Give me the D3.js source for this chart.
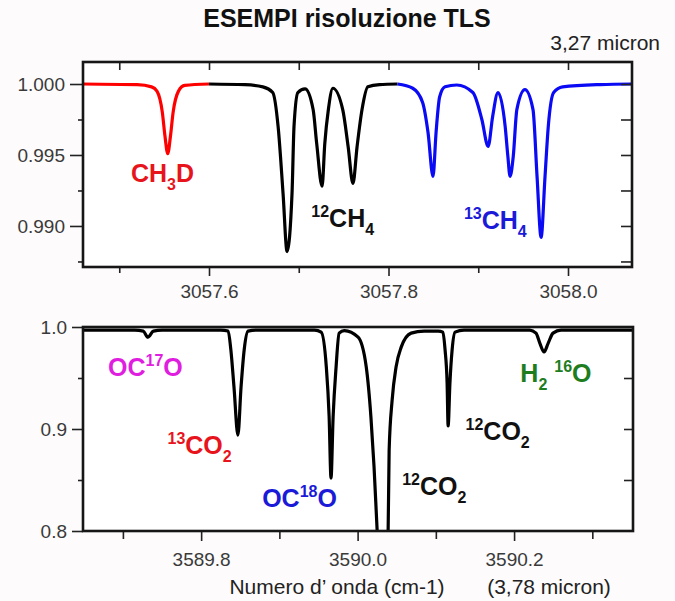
<!DOCTYPE html>
<html>
<head>
<meta charset="utf-8">
<script src="https://cdn.jsdelivr.net/npm/d3@7"></script>
<style>
  body { margin: 0; background: #fdfbfb; font-family: "Liberation Sans", Arial, sans-serif; }
  .tick text { font-family: "Liberation Sans", Arial, sans-serif; fill: #3a3a3a; }
  .tick line { stroke: #222; stroke-width: 1.6; }
</style>
</head>
<body>
<div id="chart"></div>
<script>
// ---- data ----
// top panel (3,27 micron), wavenumber cm-1 / transmittance
const ch3dLine = [[3057.46,1.0],[3057.52,0.99995],[3057.536,0.9998],[3057.542,0.9995],[3057.548,0.9980],[3057.551,0.9963],[3057.554,0.9951],[3057.557,0.9963],[3057.560,0.9980],[3057.566,0.9995],[3057.573,0.9999],[3057.60,1.0]]
const ch4Line = [[3057.60,1.0],[3057.640,0.99995],[3057.660,0.9998],[3057.671,0.9994],[3057.677,0.9970],[3057.6825,0.9923],[3057.687,0.9882],[3057.6925,0.9923],[3057.6947,0.9970],[3057.699,0.9994],[3057.707,0.99965],[3057.716,0.9982],[3057.720,0.9958],[3057.726,0.9928],[3057.729,0.9958],[3057.733,0.9982],[3057.738,0.9997],[3057.749,0.9982],[3057.755,0.9956],[3057.7604,0.9930],[3057.765,0.9956],[3057.7705,0.9982],[3057.777,0.9998],[3057.790,0.99996],[3057.81,1.0]]
const c13h4Line = [[3057.81,1.0],[3057.827,0.9997],[3057.838,0.9987],[3057.844,0.9966],[3057.8496,0.9935],[3057.853,0.9966],[3057.857,0.9991],[3057.863,0.9998],[3057.876,0.99993],[3057.894,0.9994],[3057.904,0.9975],[3057.911,0.9956],[3057.916,0.9977],[3057.922,0.9994],[3057.930,0.9970],[3057.933,0.9949],[3057.9354,0.9935],[3057.939,0.9949],[3057.943,0.9982],[3057.952,0.9996],[3057.961,0.9982],[3057.9655,0.9935],[3057.970,0.9892],[3057.9744,0.9935],[3057.978,0.9970],[3057.984,0.9994],[3057.994,0.9998],[3058.036,0.99996],[3058.072,1.0]]

// bottom panel (3,78 micron)
const co2Line = [[3589.649,0.997],[3589.715,0.997],[3589.726,0.996],[3589.732,0.990],[3589.739,0.996],[3589.750,0.997],[3589.825,0.997],[3589.8345,0.996],[3589.838,0.9775],[3589.842,0.941],[3589.847,0.894],[3589.851,0.941],[3589.855,0.9775],[3589.860,0.996],[3589.870,0.997],[3589.945,0.997],[3589.9534,0.995],[3589.960,0.961],[3589.9636,0.912],[3589.966,0.852],[3589.9687,0.912],[3589.9725,0.961],[3589.9764,0.994],[3589.983,0.9965],[3590.0006,0.990],[3590.011,0.961],[3590.017,0.912],[3590.021,0.863],[3590.025,0.800],[3590.031,0.72],[3590.039,0.800],[3590.0403,0.879],[3590.0441,0.928],[3590.0492,0.961],[3590.0556,0.980],[3590.0684,0.994],[3590.085,0.996],[3590.103,0.996],[3590.109,0.995],[3590.1118,0.9775],[3590.1144,0.945],[3590.1157,0.903],[3590.118,0.945],[3590.1208,0.9775],[3590.1246,0.995],[3590.136,0.997],[3590.220,0.997],[3590.228,0.994],[3590.233,0.984],[3590.2383,0.9755],[3590.2435,0.984],[3590.2498,0.994],[3590.260,0.997],[3590.352,0.997]]

const topXTicks = [3057.6, 3057.8, 3058.0]
const topXMinor = [3057.5, 3057.7, 3057.9]
const topYTicks = [0.990, 0.995, 1.000]
const topYMinor = [0.9875, 0.9925, 0.9975]
const botXTicks = [3589.8, 3590.0, 3590.2]
const botXMinor = [3589.7, 3589.9, 3590.1, 3590.3]
const botYTicks = [0.8, 0.9, 1.0]
const botYMinor = [0.85, 0.95]

const title = 'ESEMPI risoluzione TLS'
const topNote = '3,27 micron'
const xTitle = 'Numero d\u2019 onda (cm-1)'
const botNote = '(3,78 micron)'

// label pieces: [text, 'b' base | 'p' superscript | 's' subscript]
const topLabels = [
    { parts: [['CH','b'],['3','s'],['D','b']], at: [3057.513, 0.9931], color: '#e8141c' },
    { parts: [['12','p'],['CH','b'],['4','s']], at: [3057.714, 0.98993], color: '#111' },
    { parts: [['13','p'],['CH','b'],['4','s']], at: [3057.884, 0.98979], color: '#1a1ad8' }
]
const botLabels = [
    { parts: [['OC','b'],['17','p'],['O','b']], at: [3589.681, 0.952], color: '#e01ee0' },
    { parts: [['13','p'],['CO','b'],['2','s']], at: [3589.757, 0.8755], color: '#e8141c' },
    { parts: [['OC','b'],['18','p'],['O','b']], at: [3589.878, 0.8235], color: '#1a1ad8' },
    { parts: [['12','p'],['CO','b'],['2','s']], at: [3590.057, 0.8353], color: '#111' },
    { parts: [['12','p'],['CO','b'],['2','s']], at: [3590.138, 0.8892], color: '#111' },
    { parts: [['H','b'],['2','s'],[' ','b'],['16','p'],['O','b']], at: [3590.208, 0.9461], color: '#1e7d1e' }
]

// ---- drawing ----
const w = 675, h = 601
const svg = d3.select('#chart').append('svg').attr('width', w).attr('height', h)

svg.append('text').text(title)
    .attr('x', 347).attr('y', 27).attr('text-anchor', 'middle')
    .style('font-weight', 'bold').style('font-size', '25px').attr('fill', '#111')
svg.append('text').text(topNote)
    .attr('x', 660).attr('y', 50).attr('text-anchor', 'end')
    .style('font-size', '21px').attr('fill', '#222')

let drawPanel = (cfg) => {
    const x = d3.scaleLinear().domain(cfg.xDomain).range([cfg.left, cfg.right])
    const y = d3.scaleLinear().domain(cfg.yDomain).range([cfg.bottom, cfg.top])
    const g = svg.append('g')

    g.append('rect').attr('x', cfg.left).attr('y', cfg.top)
        .attr('width', cfg.right - cfg.left).attr('height', cfg.bottom - cfg.top)
        .attr('fill', '#fff')

    const clipId = 'clip' + cfg.id
    svg.append('clipPath').attr('id', clipId).append('rect')
        .attr('x', cfg.left).attr('y', cfg.top)
        .attr('width', cfg.right - cfg.left).attr('height', cfg.bottom - cfg.top)

    const line = d3.line().x(d => x(d[0])).y(d => y(d[1])).curve(d3.curveMonotoneX)
    cfg.series.forEach(s => {
        g.append('path').datum(s.data)
            .attr('d', line)
            .attr('fill', 'none')
            .attr('stroke', s.color)
            .attr('stroke-width', 3.2)
            .attr('stroke-linejoin', 'round')
            .attr('clip-path', 'url(#' + clipId + ')')
    })

    // axes
    const addAxis = (axis, tf) => {
        const a = g.append('g').attr('transform', tf).call(axis)
        a.select('.domain').remove()
        a.selectAll('.tick text').style('font-size', '19px')
        return a
    }
    addAxis(d3.axisLeft(y).tickValues(cfg.yTicks).tickSize(cfg.majorLen).tickPadding(5).tickFormat(d3.format(cfg.yFmt)),
        'translate(' + cfg.left + ',0)')
    addAxis(d3.axisLeft(y).tickValues(cfg.yMinor).tickSize(5).tickFormat(''),
        'translate(' + cfg.left + ',0)')
    addAxis(d3.axisBottom(x).tickValues(cfg.xTicks).tickSize(cfg.xMajorLen).tickPadding(cfg.xPad).tickFormat(d3.format('.1f')),
        'translate(0,' + cfg.bottom + ')')
    addAxis(d3.axisBottom(x).tickValues(cfg.xMinor).tickSize(cfg.xMinorLen).tickFormat(''),
        'translate(0,' + cfg.bottom + ')')
    addAxis(d3.axisRight(y).tickValues(cfg.yTicks.concat(cfg.yMinor).filter(v => v > cfg.yDomain[0] && v < cfg.yDomain[1]))
        .tickSize(-cfg.rightLen).tickFormat(''),
        'translate(' + cfg.right + ',0)')
    if (cfg.topTicks) {
        addAxis(d3.axisTop(x).tickValues(cfg.xTicks.concat(cfg.xMinor)).tickSize(-8).tickFormat(''),
            'translate(0,' + cfg.top + ')')
    }

    g.append('rect').attr('x', cfg.left).attr('y', cfg.top)
        .attr('width', cfg.right - cfg.left).attr('height', cfg.bottom - cfg.top)
        .attr('fill', 'none').attr('stroke', '#161616').attr('stroke-width', 2.6)

    cfg.labels.forEach(l => {
        const t = g.append('text')
            .attr('x', x(l.at[0])).attr('y', y(l.at[1]))
            .attr('fill', l.color)
            .style('font-weight', 'bold').style('font-size', '25px')
        let shift = 0
        l.parts.forEach(p => {
            const target = p[1] === 'p' ? -10 : p[1] === 's' ? 8 : 0
            t.append('tspan').text(p[0])
                .attr('dy', target - shift)
                .style('font-size', p[1] === 'b' ? '25px' : '16px')
                .attr('xml:space', 'preserve')
            shift = target
        })
    })
}

drawPanel({
    id: 'top', left: 83, right: 632, top: 62, bottom: 267,
    xDomain: [3057.4596, 3058.0713], yDomain: [0.98711, 1.00155],
    xTicks: topXTicks, xMinor: topXMinor, yTicks: topYTicks, yMinor: topYMinor,
    yFmt: '.3f', majorLen: 13, xMajorLen: 9, xMinorLen: 6, xPad: 9, rightLen: 11, topTicks: true,
    series: [{ data: ch3dLine, color: '#ff0000' }, { data: ch4Line, color: '#000' }, { data: c13h4Line, color: '#0a0af5' }],
    labels: topLabels
})

drawPanel({
    id: 'bot', left: 83, right: 633, top: 327, bottom: 531,
    xDomain: [3589.649, 3590.352], yDomain: [0.8, 1.0],
    xTicks: botXTicks, xMinor: botXMinor, yTicks: botYTicks, yMinor: botYMinor,
    yFmt: '.1f', majorLen: 11, xMajorLen: 10, xMinorLen: 8, xPad: 12, rightLen: 9, topTicks: false,
    series: [{ data: co2Line, color: '#000' }],
    labels: botLabels
})

svg.append('text').text(xTitle)
    .attr('x', 337).attr('y', 594).attr('text-anchor', 'middle')
    .style('font-size', '21px').attr('fill', '#222')
svg.append('text').text(botNote)
    .attr('x', 549).attr('y', 594).attr('text-anchor', 'middle')
    .style('font-size', '21px').attr('fill', '#222')
</script>
</body>
</html>
